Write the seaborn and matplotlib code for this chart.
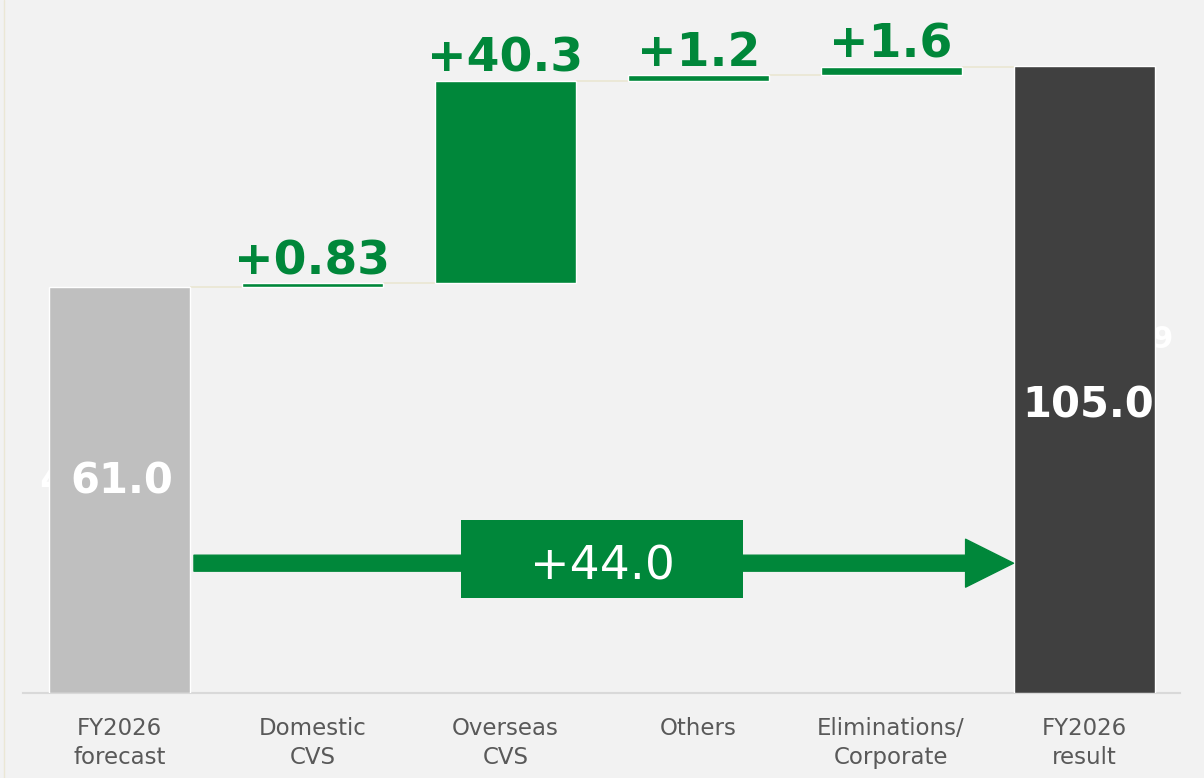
import numpy as np
import pandas as pd
import matplotlib
matplotlib.use("Agg")
import matplotlib.pyplot as plt
from matplotlib.patches import FancyArrowPatch, Rectangle, ArrowStyle
from matplotlib.lines import Line2D
import seaborn as sns

# ---- data -------------------------------------------------------------
categories = ["FY2026\nforecast", "Domestic\nCVS", "Overseas\nCVS",
              "Others", "Eliminations/\nCorporate", "FY2026\nresult"]
forecast = 61.0
changes = [0.83, 40.3, 1.2, 1.6]
result = 105.0

# ---- style ------------------------------------------------------------
GREEN = "#00873a"
GRAY_BAR = "#bfbfbf"
DARK_BAR = "#404040"
BG = "#f2f2f2"
CONNECTOR = "#ebe7d5"
TICK_COLOR = "#595959"
BAR_WIDTH = 0.731
FLOOR = -19.8          # visual baseline of the value axis
Y_TOP = 118.2

sns.set_theme(style="white")
plt.rcParams["font.family"] = ["DejaVu Sans"]

# waterfall geometry
levels = forecast + np.concatenate([[0.0], np.cumsum(changes)])
bottoms = [FLOOR, *levels[:-1], FLOOR]
heights = [forecast - FLOOR, *changes, result - FLOOR]
colors = [GRAY_BAR] + [GREEN] * len(changes) + [DARK_BAR]
df = pd.DataFrame({"category": categories, "height": heights})

fig = plt.figure(figsize=(12.04, 7.78), dpi=100, facecolor=BG)
ax = fig.add_axes([0, 85 / 778, 1, 693 / 778])
ax.set_facecolor(BG)

sns.barplot(data=df, x="category", y="height", bottom=np.array(bottoms),
            width=BAR_WIDTH, color=GREEN, edgecolor="white", linewidth=1,
            ax=ax, zorder=3)
for patch, c in zip(ax.patches, colors):
    patch.set_facecolor(c)

ax.set_xlim(-0.6195, 5.622)
ax.set_ylim(FLOOR, Y_TOP)

# connectors between consecutive bars
half = BAR_WIDTH / 2
for i, lvl in enumerate(levels):
    ax.plot([i + half, i + 1 - half], [lvl, lvl], color=CONNECTOR,
            lw=1.3, zorder=2, solid_capstyle="butt")

# change labels above the floating bars
for i, (v, top) in enumerate(zip(changes, levels[1:]), start=1):
    ax.annotate(f"+{v:g}", xy=(i, top), xytext=(0, 6.5),
                textcoords="offset points", ha="center", va="baseline",
                fontsize=34, fontweight="bold", color=GREEN, zorder=6)

# partly hidden labels behind the end bars
ax.text(-0.417, 20.0, "4", ha="left", va="baseline", fontsize=30,
        fontweight="bold", color="white", zorder=1)
ax.text(5.461, 48.85, "9", ha="right", va="baseline", fontsize=22,
        fontweight="bold", color="white", zorder=1)

# totals inside the end bars
ax.text(0.01, 20.0, f"{forecast:.1f}", ha="center", va="baseline",
        fontsize=30, fontweight="bold", color="white", zorder=6)
ax.text(5.02, 35.1, f"{result:.1f}", ha="center", va="baseline",
        fontsize=30, fontweight="bold", color="white", zorder=6)

# overall change arrow
arrow_y = 6.05
arrow = FancyArrowPatch((0.386, arrow_y), (5 - half, arrow_y),
                        arrowstyle=ArrowStyle.Simple(head_length=34.5,
                                                     head_width=34.5,
                                                     tail_width=11.5),
                        mutation_scale=1, color=GREEN, shrinkA=0, shrinkB=0,
                        zorder=4)
ax.add_patch(arrow)
ax.add_patch(Rectangle((1.770, -0.92), 1.462, 15.53, facecolor=GREEN,
                       edgecolor="none", zorder=5))
ax.text(2.501, 2.87, f"+{result - forecast:.1f}", ha="center", va="baseline",
        fontsize=34, color="white", zorder=6)

# axes cosmetics
for side in ["left", "top", "right"]:
    ax.spines[side].set_visible(False)
ax.spines["bottom"].set_color("#d9d9d9")
ax.spines["bottom"].set_linewidth(1.5)
ax.spines["bottom"].set_bounds(-0.5, 5.5)
ax.set_yticks([])
ax.set_xlabel("")
ax.set_ylabel("")
ax.tick_params(axis="x", length=0, pad=17, labelsize=16.5,
               labelcolor=TICK_COLOR)
for lbl in ax.get_xticklabels():
    lbl.set_linespacing(1.38)

fig.add_artist(Line2D([3.5 / 1204] * 2, [0, 1], color=CONNECTOR, lw=1,
                      transform=fig.transFigure))

fig.savefig("out.png", dpi=100, facecolor=BG)
